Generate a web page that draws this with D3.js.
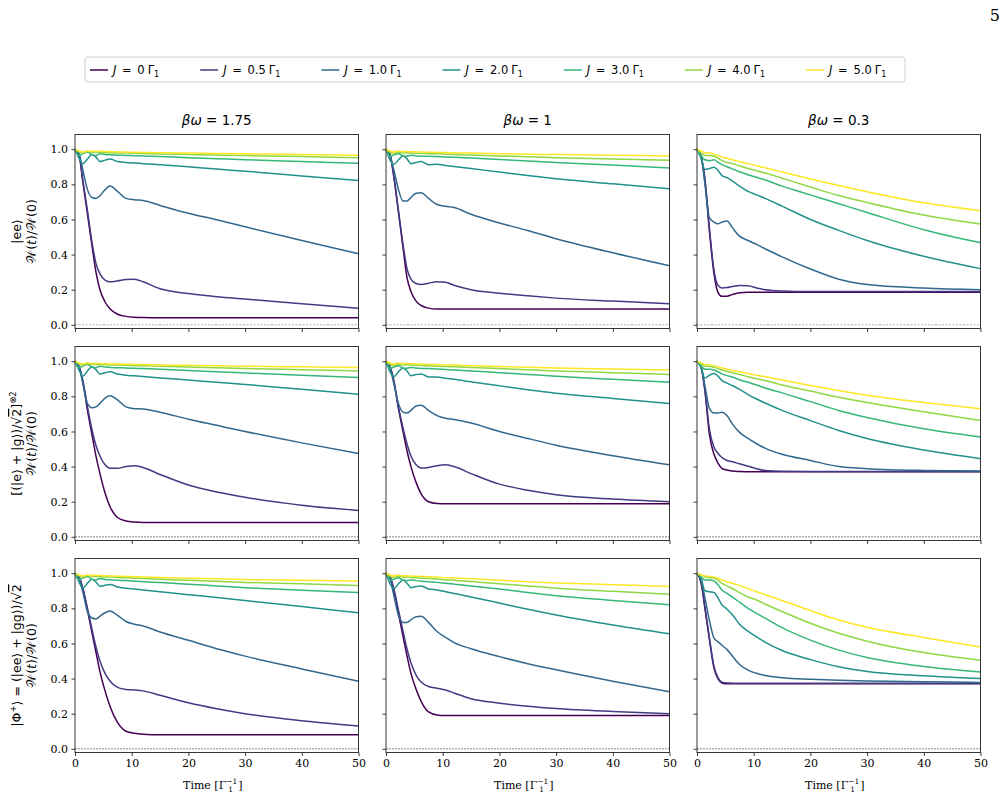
<!DOCTYPE html>
<html>
<head>
<meta charset="utf-8">
<script src="https://cdn.jsdelivr.net/npm/d3@7"></script>
<style>
body { margin: 0; background: #fff; }
svg text { font-family: "DejaVu Sans", sans-serif; fill: #000; }
.tick text { font-family: "DejaVu Serif", serif; font-size: 11px; }
</style>
</head>
<body>
<div id="chart"></div>
<script>
// sample times (in 1/Gamma_1) shared by every curve
var times = [0, 0.7, 1.4, 2.2, 3, 3.7, 4.4, 5.3, 6.2, 7.5, 9, 10.5, 12, 15, 20, 25, 30, 40, 50];
var couplings = ["0", "0.5", "1.0", "2.0", "3.0", "4.0", "5.0"];
var betaOmegas = ["1.75", "1", "0.3"];
var xTicks = [0, 10, 20, 30, 40, 50];
var yTicks = [0, 0.2, 0.4, 0.6, 0.8, 1.0];

// |ee> initial state, one array per J (J = 0 ... 5)
var ee175 = [
    [1.0, 0.97, 0.81, 0.63, 0.45, 0.30, 0.20, 0.13, 0.09, 0.06, 0.048, 0.043, 0.041, 0.04, 0.04, 0.04, 0.04, 0.04, 0.04],
    [1.0, 0.97, 0.82, 0.65, 0.47, 0.35, 0.29, 0.255, 0.245, 0.25, 0.258, 0.26, 0.245, 0.205, 0.178, 0.16, 0.147, 0.12, 0.095],
    [1.0, 0.975, 0.88, 0.77, 0.725, 0.72, 0.735, 0.77, 0.79, 0.76, 0.72, 0.712, 0.708, 0.68, 0.635, 0.598, 0.558, 0.48, 0.405],
    [1.0, 0.95, 0.918, 0.945, 0.97, 0.955, 0.93, 0.938, 0.944, 0.93, 0.925, 0.922, 0.918, 0.912, 0.9, 0.887, 0.875, 0.848, 0.822],
    [1.0, 0.965, 0.975, 0.985, 0.968, 0.965, 0.975, 0.97, 0.968, 0.966, 0.965, 0.963, 0.962, 0.958, 0.952, 0.946, 0.94, 0.93, 0.92],
    [1.0, 0.985, 0.978, 0.988, 0.982, 0.984, 0.982, 0.981, 0.98, 0.979, 0.978, 0.977, 0.976, 0.973, 0.97, 0.967, 0.964, 0.958, 0.952],
    [1.0, 0.99, 0.985, 0.99, 0.988, 0.989, 0.988, 0.987, 0.986, 0.985, 0.984, 0.983, 0.982, 0.98, 0.978, 0.976, 0.974, 0.97, 0.965]
];
var ee1 = [
    [1.0, 0.97, 0.84, 0.64, 0.44, 0.27, 0.19, 0.135, 0.11, 0.095, 0.09, 0.09, 0.09, 0.09, 0.09, 0.09, 0.09, 0.09, 0.09],
    [1.0, 0.97, 0.84, 0.65, 0.46, 0.32, 0.26, 0.235, 0.23, 0.237, 0.245, 0.243, 0.225, 0.2, 0.18, 0.165, 0.152, 0.135, 0.12],
    [1.0, 0.965, 0.88, 0.77, 0.705, 0.705, 0.725, 0.75, 0.752, 0.72, 0.685, 0.675, 0.668, 0.63, 0.58, 0.537, 0.49, 0.41, 0.337],
    [1.0, 0.94, 0.915, 0.94, 0.963, 0.945, 0.918, 0.925, 0.93, 0.912, 0.914, 0.908, 0.902, 0.89, 0.87, 0.85, 0.832, 0.803, 0.775],
    [1.0, 0.96, 0.968, 0.975, 0.962, 0.96, 0.966, 0.962, 0.96, 0.96, 0.958, 0.956, 0.954, 0.95, 0.942, 0.933, 0.925, 0.91, 0.893],
    [1.0, 0.982, 0.975, 0.985, 0.978, 0.98, 0.978, 0.977, 0.976, 0.975, 0.974, 0.972, 0.97, 0.967, 0.962, 0.957, 0.952, 0.945, 0.937],
    [1.0, 0.99, 0.984, 0.99, 0.986, 0.987, 0.986, 0.985, 0.984, 0.983, 0.982, 0.981, 0.98, 0.978, 0.975, 0.972, 0.97, 0.966, 0.962]
];
var ee03 = [
    [1.0, 0.96, 0.82, 0.53, 0.29, 0.185, 0.162, 0.163, 0.172, 0.182, 0.185, 0.185, 0.185, 0.185, 0.185, 0.185, 0.185, 0.185, 0.185],
    [1.0, 0.96, 0.83, 0.55, 0.31, 0.225, 0.21, 0.212, 0.218, 0.224, 0.222, 0.21, 0.2, 0.193, 0.19, 0.19, 0.19, 0.19, 0.19],
    [1.0, 0.965, 0.8, 0.61, 0.585, 0.575, 0.585, 0.592, 0.555, 0.505, 0.48, 0.458, 0.433, 0.387, 0.318, 0.26, 0.23, 0.21, 0.2],
    [1.0, 0.95, 0.885, 0.89, 0.898, 0.88, 0.85, 0.838, 0.82, 0.79, 0.76, 0.74, 0.72, 0.676, 0.60, 0.538, 0.48, 0.39, 0.32],
    [1.0, 0.965, 0.94, 0.935, 0.94, 0.925, 0.912, 0.9, 0.888, 0.872, 0.855, 0.84, 0.825, 0.79, 0.74, 0.69, 0.64, 0.542, 0.468],
    [1.0, 0.98, 0.965, 0.965, 0.96, 0.95, 0.935, 0.925, 0.918, 0.905, 0.89, 0.877, 0.865, 0.835, 0.785, 0.736, 0.697, 0.625, 0.574],
    [1.0, 0.99, 0.98, 0.978, 0.972, 0.965, 0.955, 0.948, 0.94, 0.93, 0.918, 0.906, 0.895, 0.87, 0.83, 0.793, 0.758, 0.695, 0.65]
];

// product state [(|e>+|g>)/sqrt2]^(x)2
var prod175 = [
    [1.0, 0.97, 0.88, 0.72, 0.58, 0.46, 0.36, 0.25, 0.17, 0.11, 0.09, 0.084, 0.082, 0.082, 0.082, 0.082, 0.082, 0.082, 0.082],
    [1.0, 0.97, 0.89, 0.74, 0.61, 0.52, 0.46, 0.41, 0.39, 0.39, 0.4, 0.405, 0.395, 0.355, 0.295, 0.255, 0.225, 0.18, 0.15],
    [1.0, 0.97, 0.87, 0.76, 0.735, 0.74, 0.76, 0.79, 0.803, 0.78, 0.74, 0.73, 0.728, 0.71, 0.67, 0.635, 0.6, 0.535, 0.475],
    [1.0, 0.95, 0.915, 0.945, 0.968, 0.952, 0.928, 0.935, 0.94, 0.927, 0.92, 0.917, 0.913, 0.905, 0.893, 0.88, 0.868, 0.84, 0.812],
    [1.0, 0.965, 0.972, 0.983, 0.966, 0.963, 0.972, 0.967, 0.965, 0.963, 0.962, 0.96, 0.958, 0.954, 0.948, 0.94, 0.933, 0.92, 0.908],
    [1.0, 0.985, 0.978, 0.988, 0.981, 0.983, 0.981, 0.98, 0.979, 0.978, 0.977, 0.975, 0.974, 0.971, 0.967, 0.963, 0.959, 0.952, 0.945],
    [1.0, 0.99, 0.985, 0.99, 0.987, 0.988, 0.987, 0.986, 0.985, 0.984, 0.983, 0.982, 0.981, 0.979, 0.977, 0.975, 0.972, 0.968, 0.964]
];
var prod1 = [
    [1.0, 0.97, 0.88, 0.73, 0.6, 0.49, 0.4, 0.31, 0.245, 0.2, 0.19, 0.188, 0.188, 0.188, 0.188, 0.188, 0.188, 0.188, 0.188],
    [1.0, 0.97, 0.89, 0.74, 0.62, 0.53, 0.46, 0.41, 0.392, 0.395, 0.405, 0.41, 0.4, 0.36, 0.3, 0.265, 0.24, 0.215, 0.2],
    [1.0, 0.965, 0.87, 0.76, 0.71, 0.705, 0.72, 0.745, 0.75, 0.72, 0.69, 0.675, 0.668, 0.648, 0.6, 0.56, 0.522, 0.462, 0.41],
    [1.0, 0.94, 0.913, 0.94, 0.962, 0.944, 0.918, 0.924, 0.928, 0.91, 0.91, 0.903, 0.897, 0.883, 0.86, 0.838, 0.818, 0.788, 0.76],
    [1.0, 0.96, 0.967, 0.975, 0.962, 0.96, 0.965, 0.961, 0.959, 0.958, 0.956, 0.953, 0.95, 0.945, 0.935, 0.925, 0.915, 0.897, 0.88],
    [1.0, 0.982, 0.975, 0.985, 0.978, 0.98, 0.978, 0.977, 0.976, 0.974, 0.972, 0.97, 0.968, 0.964, 0.958, 0.951, 0.945, 0.935, 0.925],
    [1.0, 0.99, 0.984, 0.99, 0.986, 0.987, 0.986, 0.985, 0.984, 0.982, 0.981, 0.979, 0.978, 0.975, 0.97, 0.966, 0.962, 0.956, 0.95]
];
var prod03 = [
    [1.0, 0.97, 0.83, 0.58, 0.47, 0.42, 0.39, 0.38, 0.375, 0.372, 0.37, 0.37, 0.37, 0.37, 0.37, 0.37, 0.37, 0.37, 0.37],
    [1.0, 0.97, 0.84, 0.61, 0.51, 0.475, 0.452, 0.435, 0.428, 0.416, 0.402, 0.388, 0.378, 0.373, 0.372, 0.372, 0.372, 0.372, 0.372],
    [1.0, 0.97, 0.86, 0.73, 0.705, 0.705, 0.71, 0.69, 0.645, 0.595, 0.56, 0.53, 0.505, 0.47, 0.435, 0.4, 0.388, 0.378, 0.375],
    [1.0, 0.965, 0.905, 0.92, 0.93, 0.915, 0.89, 0.875, 0.862, 0.84, 0.81, 0.785, 0.762, 0.72, 0.662, 0.606, 0.56, 0.494, 0.445],
    [1.0, 0.975, 0.955, 0.955, 0.95, 0.94, 0.928, 0.918, 0.91, 0.895, 0.88, 0.865, 0.848, 0.82, 0.77, 0.72, 0.68, 0.615, 0.568],
    [1.0, 0.985, 0.972, 0.972, 0.965, 0.958, 0.95, 0.942, 0.935, 0.925, 0.912, 0.9, 0.89, 0.865, 0.83, 0.795, 0.765, 0.712, 0.663],
    [1.0, 0.99, 0.982, 0.98, 0.975, 0.968, 0.962, 0.955, 0.948, 0.94, 0.93, 0.92, 0.912, 0.893, 0.862, 0.833, 0.806, 0.765, 0.73]
];

// Bell state |Phi+>
var bell175 = [
    [1.0, 0.98, 0.91, 0.79, 0.66, 0.55, 0.44, 0.33, 0.24, 0.15, 0.1, 0.088, 0.083, 0.08, 0.08, 0.08, 0.08, 0.08, 0.08],
    [1.0, 0.98, 0.91, 0.8, 0.68, 0.58, 0.5, 0.43, 0.385, 0.35, 0.338, 0.335, 0.33, 0.305, 0.262, 0.228, 0.2, 0.16, 0.13],
    [1.0, 0.975, 0.89, 0.78, 0.745, 0.74, 0.755, 0.775, 0.785, 0.76, 0.725, 0.71, 0.7, 0.665, 0.618, 0.57, 0.528, 0.455, 0.385],
    [1.0, 0.95, 0.915, 0.943, 0.966, 0.95, 0.926, 0.932, 0.936, 0.922, 0.915, 0.91, 0.905, 0.895, 0.878, 0.862, 0.845, 0.81, 0.775],
    [1.0, 0.965, 0.972, 0.982, 0.965, 0.962, 0.97, 0.965, 0.963, 0.96, 0.958, 0.955, 0.952, 0.947, 0.938, 0.928, 0.918, 0.903, 0.89],
    [1.0, 0.985, 0.978, 0.987, 0.98, 0.982, 0.98, 0.979, 0.978, 0.976, 0.974, 0.972, 0.97, 0.966, 0.96, 0.954, 0.948, 0.94, 0.93],
    [1.0, 0.99, 0.985, 0.99, 0.987, 0.988, 0.987, 0.986, 0.985, 0.983, 0.982, 0.98, 0.979, 0.976, 0.972, 0.968, 0.964, 0.96, 0.955]
];
var bell1 = [
    [1.0, 0.98, 0.9, 0.77, 0.64, 0.53, 0.43, 0.34, 0.27, 0.21, 0.193, 0.19, 0.19, 0.19, 0.19, 0.19, 0.19, 0.19, 0.19],
    [1.0, 0.98, 0.91, 0.79, 0.67, 0.57, 0.49, 0.42, 0.38, 0.355, 0.345, 0.335, 0.318, 0.285, 0.26, 0.243, 0.23, 0.213, 0.2],
    [1.0, 0.97, 0.87, 0.76, 0.72, 0.72, 0.735, 0.752, 0.755, 0.72, 0.668, 0.635, 0.605, 0.57, 0.525, 0.485, 0.45, 0.385, 0.325],
    [1.0, 0.94, 0.912, 0.94, 0.962, 0.943, 0.918, 0.924, 0.928, 0.91, 0.905, 0.895, 0.885, 0.865, 0.83, 0.795, 0.762, 0.705, 0.655],
    [1.0, 0.96, 0.966, 0.974, 0.96, 0.958, 0.962, 0.958, 0.955, 0.952, 0.948, 0.943, 0.938, 0.928, 0.91, 0.89, 0.872, 0.845, 0.82],
    [1.0, 0.982, 0.975, 0.984, 0.977, 0.978, 0.976, 0.974, 0.972, 0.97, 0.967, 0.963, 0.96, 0.953, 0.94, 0.928, 0.915, 0.897, 0.88],
    [1.0, 0.99, 0.984, 0.99, 0.985, 0.986, 0.984, 0.983, 0.982, 0.98, 0.978, 0.975, 0.973, 0.968, 0.96, 0.952, 0.945, 0.935, 0.925]
];
var bell03 = [
    [1.0, 0.95, 0.8, 0.62, 0.46, 0.4, 0.375, 0.37, 0.37, 0.37, 0.37, 0.37, 0.37, 0.37, 0.37, 0.37, 0.37, 0.37, 0.37],
    [1.0, 0.955, 0.81, 0.63, 0.47, 0.405, 0.38, 0.375, 0.374, 0.373, 0.373, 0.373, 0.373, 0.373, 0.373, 0.373, 0.373, 0.373, 0.373],
    [1.0, 0.965, 0.86, 0.73, 0.63, 0.61, 0.59, 0.565, 0.53, 0.48, 0.448, 0.43, 0.418, 0.405, 0.396, 0.39, 0.386, 0.382, 0.378],
    [1.0, 0.975, 0.9, 0.895, 0.89, 0.86, 0.82, 0.795, 0.765, 0.71, 0.67, 0.638, 0.608, 0.56, 0.508, 0.467, 0.44, 0.416, 0.40],
    [1.0, 0.98, 0.962, 0.962, 0.955, 0.935, 0.905, 0.885, 0.865, 0.835, 0.8, 0.771, 0.744, 0.69, 0.619, 0.562, 0.52, 0.469, 0.438],
    [1.0, 0.99, 0.98, 0.975, 0.972, 0.96, 0.943, 0.928, 0.913, 0.89, 0.865, 0.848, 0.825, 0.782, 0.715, 0.658, 0.613, 0.548, 0.505],
    [1.0, 0.99, 0.985, 0.982, 0.978, 0.97, 0.962, 0.952, 0.943, 0.93, 0.913, 0.895, 0.878, 0.845, 0.787, 0.734, 0.692, 0.634, 0.58]
];

var panels = [
    [ee175, ee1, ee03],
    [prod175, prod1, prod03],
    [bell175, bell1, bell03]
];

var w = 1008;
var h = 801;
var colLeft = [75, 386, 697];
var rowTop = [134.5, 346.5, 558.5];
var pw = 283.5;
var ph = 194;

var svg = d3.select("#chart")
    .append("svg")
    .attr("width", w)
    .attr("height", h);

var color = function (i) {
    return d3.interpolateViridis(i / 6);
};

var x = d3.scaleLinear().domain([0, 50]).range([0, pw]);
var y = d3.scaleLinear().domain([-0.021, 1.084]).range([ph, 0]);

var line = d3.line()
    .x(function (d, i) { return x(times[i]); })
    .y(function (d) { return y(d); })
    .curve(d3.curveMonotoneX);

panels.forEach(function (row, r) {
    row.forEach(function (series, c) {
        var g = svg.append("g")
            .attr("transform", "translate(" + colLeft[c] + "," + rowTop[r] + ")");

        // dotted zero line
        g.append("line")
            .attr("x1", 0).attr("x2", pw)
            .attr("y1", y(0)).attr("y2", y(0))
            .attr("stroke", r == 0 ? "#b0b0b0" : "#555")
            .attr("stroke-width", r == 0 ? 1.1 : 0.7)
            .attr("stroke-dasharray", r == 0 ? "2,1.5" : "2,1");

        g.selectAll("path.curve")
            .data(series)
            .enter()
            .append("path")
            .attr("class", "curve")
            .attr("d", line)
            .attr("fill", "none")
            .attr("stroke", function (d, i) { return color(i); })
            .attr("stroke-width", 1.5);

        var xAxis = d3.axisBottom(x)
            .tickValues(xTicks)
            .tickSize(3.5)
            .tickSizeOuter(0)
            .tickPadding(3.5)
            .tickFormat(r == 2 ? d3.format("d") : "");
        var yAxis = d3.axisLeft(y)
            .tickValues(yTicks)
            .tickSize(3.5)
            .tickSizeOuter(0)
            .tickPadding(3.5)
            .tickFormat(c == 0 ? d3.format(".1f") : "");

        g.append("g")
            .attr("transform", "translate(0," + ph + ")")
            .call(xAxis)
            .call(function (a) { a.select(".domain").remove(); });
        g.append("g")
            .call(yAxis)
            .call(function (a) { a.select(".domain").remove(); });

        g.selectAll(".tick line").attr("stroke", "#222").attr("stroke-width", 0.9);

        // frame
        g.append("rect")
            .attr("width", pw)
            .attr("height", ph)
            .attr("fill", "none")
            .attr("stroke", "#222")
            .attr("stroke-width", 0.9);

        if (r == 0) {
            var title = g.append("text")
                .attr("x", pw / 2)
                .attr("y", -10)
                .attr("text-anchor", "middle")
                .attr("font-size", "13.5px");
            title.append("tspan").attr("font-style", "italic").text("\u03b2\u03c9");
            title.append("tspan").text(" = " + betaOmegas[c]);
        }

        if (r == 2) {
            var xl = g.append("text")
                .attr("x", pw / 2 - 4)
                .attr("y", ph + 36)
                .attr("text-anchor", "middle")
                .style("font-family", "'DejaVu Serif', serif")
                .attr("font-size", "11px");
            xl.append("tspan").text("Time [\u0393");
            xl.append("tspan").attr("dy", -5).attr("font-size", "7.5px").text("\u22121");
            xl.append("tspan").attr("dx", -9).attr("dy", 8).attr("font-size", "7.5px").text("1");
            xl.append("tspan").attr("dx", 5).attr("dy", -3).text("]");
        }
    });
});

// row labels (two lines, rotated)
rowTop.forEach(function (top, r) {
    var cy = top + ph / 2;
    var t1 = svg.append("text")
        .attr("transform", "translate(21," + cy + ") rotate(-90)")
        .attr("text-anchor", "middle")
        .attr("font-size", "12.5px");
    if (r == 0) {
        t1.text("|ee\u27e9");
    } else if (r == 1) {
        t1.append("tspan").text("[(|e\u27e9 + |g\u27e9)/\u221a");
        t1.append("tspan").style("text-decoration", "overline").text("2");
        t1.append("tspan").text("]");
        t1.append("tspan").attr("dy", -5).attr("font-size", "8.5px").text("\u22972");
    } else {
        t1.append("tspan").text("|\u03a6");
        t1.append("tspan").attr("dy", -5).attr("font-size", "8.5px").text("+");
        t1.append("tspan").attr("dy", 5).text("\u27e9 = (|ee\u27e9 + |gg\u27e9)/\u221a");
        t1.append("tspan").style("text-decoration", "overline").text("2");
    }
    var t2 = svg.append("text")
        .attr("transform", "translate(36," + cy + ") rotate(-90)")
        .attr("text-anchor", "middle")
        .attr("font-size", "12.5px");
    t2.append("tspan").text("\ud835\udcb2(");
    t2.append("tspan").attr("font-style", "italic").text("t");
    t2.append("tspan").text(")/\ud835\udcb2(0)");
});

// legend
var legend = svg.append("g");
legend.append("rect")
    .attr("x", 85).attr("y", 57)
    .attr("width", 820).attr("height", 25)
    .attr("rx", 3)
    .attr("fill", "#fff")
    .attr("stroke", "#d0d0d0")
    .attr("stroke-width", 1);

var lx = 90;
couplings.forEach(function (jv, i) {
    legend.append("line")
        .attr("x1", lx).attr("x2", lx + 18)
        .attr("y1", 70).attr("y2", 70)
        .attr("stroke", color(i))
        .attr("stroke-width", 1.5);
    var t = legend.append("text")
        .attr("x", lx + 23)
        .attr("y", 74)
        .attr("font-size", "11.5px");
    t.append("tspan").attr("font-style", "italic").text("J");
    t.append("tspan").attr("dx", 2).text(" = ");
    t.append("tspan").attr("dx", 2).text(jv);
    t.append("tspan").attr("dx", 3).text("\u0393");
    t.append("tspan").attr("dy", 3).attr("font-size", "8px").text("1");
    var tw = t.node().getBBox().width;
    lx = lx + 23 + tw + 39;
});

// page number
svg.append("text")
    .attr("x", 1000)
    .attr("y", 21)
    .attr("text-anchor", "end")
    .style("font-family", "'DejaVu Serif', serif")
    .attr("font-size", "16px")
    .text("5");
</script>
</body>
</html>
